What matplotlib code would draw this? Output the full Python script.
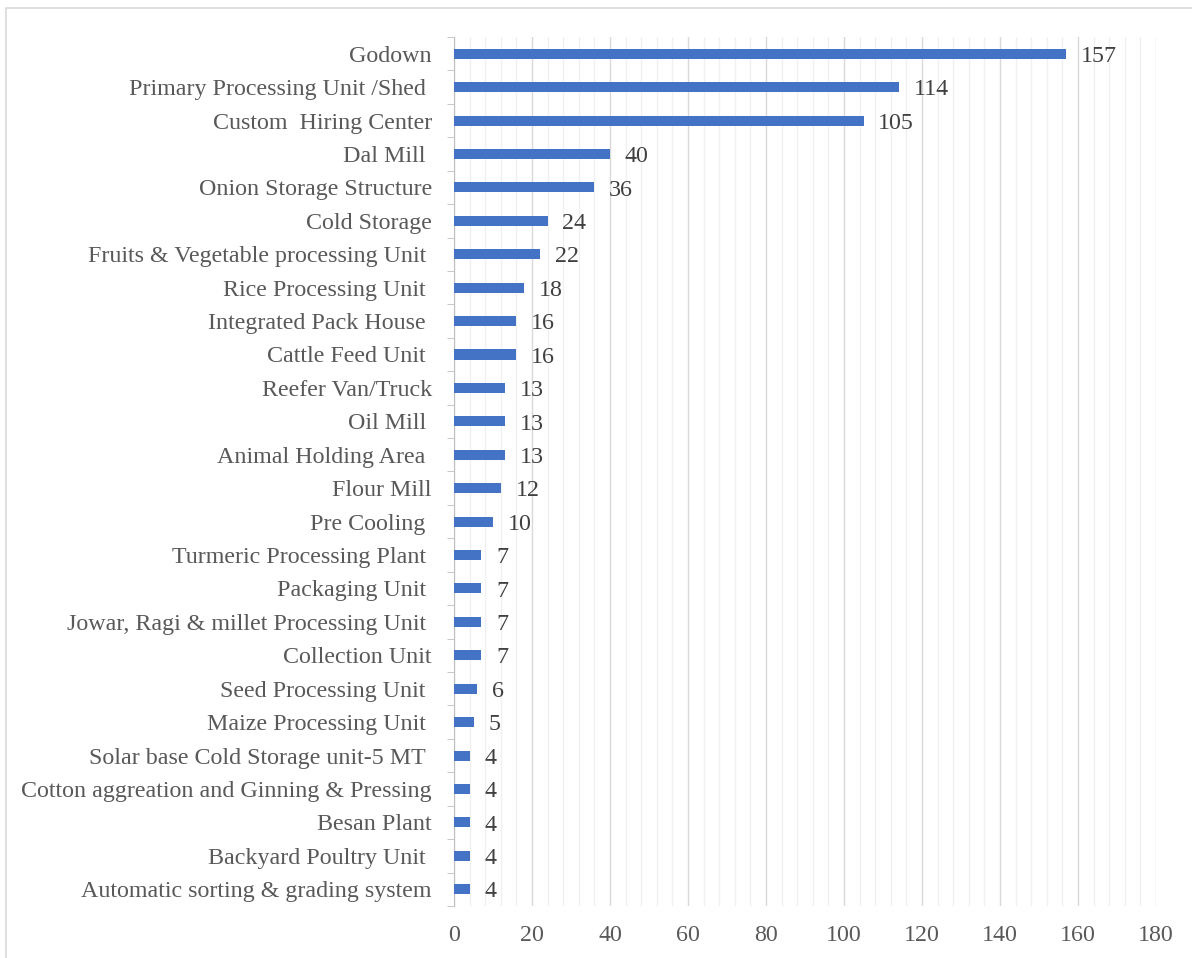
import matplotlib.pyplot as plt
from matplotlib.ticker import MultipleLocator, FixedLocator
from matplotlib.patches import Rectangle
import numpy as np

categories = [
    "Godown", "Primary Processing Unit /Shed ", "Custom  Hiring Center", "Dal Mill ",
    "Onion Storage Structure", "Cold Storage", "Fruits & Vegetable processing Unit ",
    "Rice Processing Unit ", "Integrated Pack House ", "Cattle Feed Unit ",
    "Reefer Van/Truck", "Oil Mill ", "Animal Holding Area ", "Flour Mill",
    "Pre Cooling ", "Turmeric Processing Plant ", "Packaging Unit ",
    "Jowar, Ragi & millet Processing Unit ", "Collection Unit", "Seed Processing Unit ",
    "Maize Processing Unit ", "Solar base Cold Storage unit-5 MT ",
    "Cotton aggreation and Ginning & Pressing", "Besan Plant",
    "Backyard Poultry Unit ", "Automatic sorting & grading system",
]
counts = [157, 114, 105, 40, 36, 24, 22, 18, 16, 16, 13, 13, 13, 12, 10,
          7, 7, 7, 7, 6, 5, 4, 4, 4, 4, 4]

plt.rcParams["font.family"] = ["Liberation Serif", "DejaVu Serif"]
text_col = "#595959"

fig = plt.figure(figsize=(11.92, 9.58), dpi=100)
ax = fig.add_axes([0.3809, 0.0543, 0.5889, 0.9071])

y = np.arange(len(categories))[::-1]
ax.barh(y, counts, height=0.3, color="#4472C4", zorder=3)

for yi, v in zip(y, counts):
    ax.text(v + 3.8, yi - 0.08, str(v), va="center", ha="left", fontsize=17.3,
            color="#404040")

ax.set_xlim(0, 180)
ax.set_ylim(-0.5, len(categories) - 0.5)
ax.set_yticks(y)
ax.set_yticklabels(categories, fontsize=17.3, color=text_col)
ax.yaxis.set_minor_locator(FixedLocator(np.arange(-0.5, len(categories), 1)))
ax.tick_params(axis="y", which="major", length=0, pad=16)
ax.tick_params(axis="y", which="minor", length=5, color="#bfbfbf", direction="out")

ax.xaxis.set_major_locator(MultipleLocator(20))
ax.xaxis.set_minor_locator(MultipleLocator(4))
ax.tick_params(axis="x", which="both", length=0, labelsize=17.3, labelcolor=text_col, pad=14)
ax.grid(axis="x", which="major", color="#d9d9d9", linewidth=1.0, zorder=0)
ax.grid(axis="x", which="minor", color="#f0f0f0", linewidth=1.0, zorder=0)

for s in ["top", "right", "bottom"]:
    ax.spines[s].set_visible(False)
ax.spines["left"].set_color("#bfbfbf")

# chart border
fig.patches.append(Rectangle((6 / 1192, -0.05), 1.1, (958 - 8) / 958 + 0.05,
                             transform=fig.transFigure, fill=False,
                             edgecolor="#d9d9d9", linewidth=1.2))

fig.savefig("out.png", dpi=100)
